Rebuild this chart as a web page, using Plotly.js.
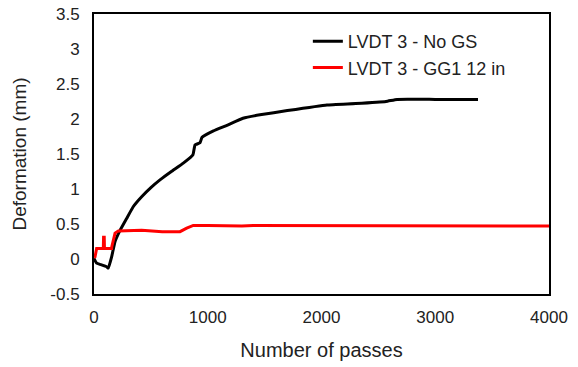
<!DOCTYPE html>
<html>
<head>
<meta charset="utf-8">
<script src="https://cdn.plot.ly/plotly-3.0.1.min.js"></script>
<style>html,body{margin:0;padding:0;background:#fff}#chart{width:578px;height:367px}</style>
</head>
<body>
<div id="chart"></div>
<script>
const noGsPasses = [0, 23, 60, 111, 126, 155, 185, 229, 287, 346, 419, 500, 580, 680, 785, 870, 888, 932, 950, 1050, 1169, 1310, 1459, 1700, 2048, 2300, 2567, 2664, 3000, 3376];
const noGsDeform = [0.01, -0.06, -0.08, -0.11, -0.13, 0.03, 0.25, 0.41, 0.58, 0.75, 0.89, 1.02, 1.13, 1.25, 1.37, 1.49, 1.63, 1.66, 1.74, 1.83, 1.91, 2.01, 2.06, 2.12, 2.20, 2.22, 2.25, 2.28, 2.28, 2.28];
const gg1Passes = [0, 9, 23, 82, 84, 90, 92, 155, 157, 185, 214, 419, 600, 756, 815, 873, 1000, 1300, 1400, 2000, 3000, 3500, 4000];
const gg1Deform = [0.02, 0.03, 0.15, 0.15, 0.31, 0.31, 0.15, 0.15, 0.18, 0.37, 0.40, 0.41, 0.39, 0.39, 0.44, 0.48, 0.48, 0.47, 0.48, 0.48, 0.48, 0.47, 0.47];
const seriesNames = ["LVDT 3 - No GS", "LVDT 3 - GG1 12 in"];
const xTicks = [0, 1000, 2000, 3000, 4000];
const yTicks = [-0.5, 0, 0.5, 1, 1.5, 2, 2.5, 3, 3.5];

const font = "Arial, 'Liberation Sans', sans-serif";
const traces = [
  {x: noGsPasses, y: noGsDeform, name: seriesNames[0], mode: "lines", line: {color: "#000000", width: 3, shape: "spline", smoothing: 0.3}},
  {x: gg1Passes, y: gg1Deform, name: seriesNames[1], mode: "lines", line: {color: "#ff0000", width: 3}}
];
const layout = {
  width: 578, height: 367,
  margin: {l: 94, r: 29, t: 14, b: 73},
  paper_bgcolor: "#fff", plot_bgcolor: "#fff",
  font: {family: font, color: "#222", size: 17},
  showlegend: true,
  legend: {x: 0.47, y: 0.968, xanchor: "left", yanchor: "top", bgcolor: "rgba(0,0,0,0)", font: {size: 18, color: "#222"}, tracegroupgap: 4},
  xaxis: {
    range: [0, 4000], tickvals: xTicks, ticktext: xTicks.map(String),
    showgrid: false, zeroline: false, showline: true, mirror: true, linecolor: "#000", linewidth: 2,
    ticks: "", tickfont: {size: 17}, ticklabelstandoff: 7,
    title: {text: "Number of passes", font: {size: 20, color: "#222"}, standoff: 17}
  },
  yaxis: {
    range: [-0.5, 3.5], tickvals: yTicks, ticktext: yTicks.map(String),
    showgrid: false, zeroline: false, showline: true, mirror: true, linecolor: "#000", linewidth: 2,
    ticks: "", tickfont: {size: 17}, ticklabelstandoff: 9,
    title: {text: "Deformation (mm)", font: {size: 19, color: "#222"}, standoff: 19}
  }
};
Plotly.newPlot("chart", traces, layout, {displayModeBar: false, staticPlot: true});
</script>
</body>
</html>
